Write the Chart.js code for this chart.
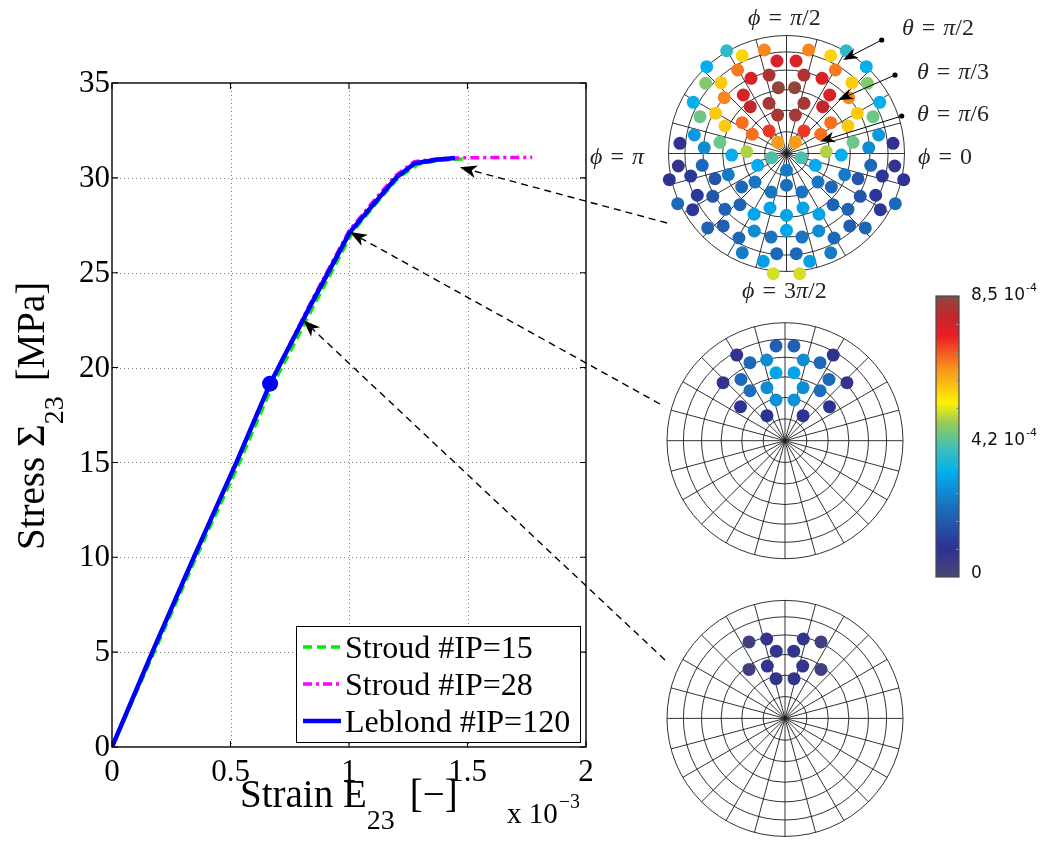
<!DOCTYPE html>
<html><head><meta charset="utf-8"><title>Stress-strain with integration points</title>
<script src="https://cdn.jsdelivr.net/npm/chart.js@4.4.1/dist/chart.umd.min.js"></script>
<style>
html,body{margin:0;padding:0;background:#fff;}
#wrap{position:relative;width:1042px;height:842px;overflow:hidden;background:#fff;}
#wrap canvas{position:absolute;left:0;top:0;}
</style></head><body><div id="wrap">
<canvas id="cMain" width="1042" height="842"></canvas>
<canvas id="cTop" width="1042" height="842"></canvas>
<canvas id="cMid" width="1042" height="842"></canvas>
<canvas id="cBot" width="1042" height="842"></canvas>
</div>
<script>
// ---------------- main curve data (strain x1e-3, stress MPa) ----------------
const strainLeblond = [0, 0.17, 0.345, 0.525, 0.667, 0.737, 0.849, 1.004, 1.117, 1.201, 1.278, 1.37, 1.447];
const stressLeblond = [0, 5, 10, 15, 19.15, 20.85, 23.54, 27.14, 28.81, 30.03, 30.77, 30.95, 31.05];
const strainStroud15 = [0, 0.178, 0.355, 0.538, 0.68, 0.752, 0.863, 1.015, 1.125, 1.21, 1.29, 1.38, 1.48];
const stressStroud15 = [0, 5, 10, 15, 19.15, 20.85, 23.54, 27.14, 28.81, 30.03, 30.7, 30.92, 31.0];
const strainStroud28 = [0, 0.17, 0.345, 0.525, 0.667, 0.737, 0.846, 1.0, 1.112, 1.195, 1.275, 1.37, 1.45, 1.6, 1.773];
const stressStroud28 = [0, 5, 10, 15, 19.15, 20.9, 23.6, 27.2, 28.9, 30.1, 30.85, 31.0, 31.05, 31.07, 31.08];
const markStrain = [0.667];
const markStress = [19.15];
const seriesLabels = ['Stroud #IP=15', 'Stroud #IP=28', 'Leblond #IP=120'];
const xTicks = [0, 0.5, 1, 1.5, 2];
const xTickLabels = ['0', '0.5', '1', '1.5', '2'];
const yTicks = [0, 5, 10, 15, 20, 25, 30, 35];
const yTickLabels = ['0', '5', '10', '15', '20', '25', '30', '35'];
// points on the curve that the dashed arrows designate
const arrowStrain = [1.468, 1.004, 0.807];
const arrowStress = [30.56, 27.14, 22.49];

// ---------------- integration-point maps (projected disk coords, radius = 1), values x1e-4 ----------------
const topX = [
 -0.507,-0.375,-0.188,-0.081,-0.676,-0.414,-0.301,-0.148,-0.069,-0.685,-0.555,-0.527,-0.366,-0.307,-0.148,-0.075,-0.790,-0.733,-0.600,-0.521,-0.375,-0.290,-0.148,-0.075,-0.903,-0.781,-0.697,-0.564,-0.464,-0.337,-0.125,
  0.507, 0.375, 0.188, 0.081, 0.676, 0.414, 0.301, 0.148, 0.069, 0.685, 0.555, 0.527, 0.366, 0.307, 0.148, 0.075, 0.790, 0.733, 0.600, 0.521, 0.375, 0.290, 0.148, 0.075, 0.903, 0.781, 0.697, 0.564, 0.464, 0.337, 0.125,
 -0.917,-0.714,-0.993,-0.812,-0.606,-0.493,-0.244,-0.756,-0.625,-0.380,-0.267,-0.131,-0.922,-0.795,-0.521,-0.394,-0.275,-0.140,-0.668,-0.536,-0.403,-0.273,-0.131,-0.375,-0.197,-0.083,-0.112,
  0.917, 0.714, 0.993, 0.812, 0.606, 0.493, 0.244, 0.756, 0.625, 0.380, 0.267, 0.131, 0.922, 0.795, 0.521, 0.394, 0.275, 0.140, 0.668, 0.536, 0.403, 0.273, 0.131, 0.375, 0.197, 0.083, 0.112,
  0, 0, 0, 0];
const topY = [
  0.871, 0.829, 0.877, 0.784, 0.736, 0.708, 0.637, 0.665, 0.558, 0.595, 0.600, 0.473, 0.496, 0.397, 0.425, 0.326, 0.434, 0.312, 0.341, 0.233, 0.261, 0.163, 0.191, 0.095, 0.086, 0.157, 0.049, 0.095,-0.013, 0.015,-0.036,
  0.871, 0.829, 0.877, 0.784, 0.736, 0.708, 0.637, 0.665, 0.558, 0.595, 0.600, 0.473, 0.496, 0.397, 0.425, 0.326, 0.434, 0.312, 0.341, 0.233, 0.261, 0.163, 0.191, 0.095, 0.086, 0.157, 0.049, 0.095,-0.013, 0.015,-0.036,
 -0.106,-0.100,-0.222,-0.191,-0.214,-0.180,-0.100,-0.354,-0.363,-0.284,-0.242,-0.326,-0.425,-0.476,-0.473,-0.434,-0.515,-0.462,-0.631,-0.614,-0.716,-0.657,-0.708,-0.841,-0.914,-0.849,-1.019,
 -0.106,-0.100,-0.222,-0.191,-0.214,-0.180,-0.100,-0.354,-0.363,-0.284,-0.242,-0.326,-0.425,-0.476,-0.473,-0.434,-0.515,-0.462,-0.631,-0.614,-0.716,-0.657,-0.708,-0.841,-0.914,-0.849,-1.019,
 -0.142,-0.269,-0.524,-0.651];
const topV = [
  3.7, 5.6, 6.4, 7.6, 3.2, 6.5, 7.6, 8.1, 8.4, 4.5, 5.7, 6.4, 7.6, 7.9, 8.2, 8.2, 3.2, 4.3, 5.7, 5.7, 6.6, 6.6, 7.1, 6.2, 0.9, 2.8, 2.6, 4.3, 3.2, 4.8, 4.0,
  3.7, 5.6, 6.4, 7.6, 3.2, 6.5, 7.6, 8.1, 8.4, 4.5, 5.7, 6.4, 7.6, 7.9, 8.2, 8.2, 3.2, 4.3, 5.7, 5.7, 6.6, 6.6, 7.1, 6.2, 0.9, 2.8, 2.6, 4.3, 3.2, 4.8, 4.0,
  0.7, 2.0, 0.9, 1.0, 1.6, 2.3, 3.1, 1.0, 1.6, 2.0, 2.2, 2.2, 2.0, 1.0, 1.9, 1.9, 3.0, 3.0, 1.9, 1.8, 2.0, 2.6, 2.2, 2.3, 2.9, 2.0, 5.0,
  0.7, 2.0, 0.9, 1.0, 1.6, 2.3, 3.1, 1.0, 1.6, 2.0, 2.2, 2.2, 2.0, 1.0, 1.9, 1.9, 3.0, 3.0, 1.9, 1.8, 2.0, 2.6, 2.2, 2.3, 2.9, 2.0, 5.0,
  2.3, 2.1, 3.0, 3.0];

const midX = [-0.076, 0.076,-0.409, 0.409,-0.297, 0.297,-0.155, 0.155,-0.076, 0.076,-0.525, 0.525,-0.373, 0.373,-0.297, 0.297,-0.153, 0.153,-0.076, 0.076,-0.377, 0.377,-0.153, 0.153];
const midY = [ 0.803, 0.803, 0.726, 0.726, 0.661, 0.661, 0.684, 0.684, 0.576, 0.576, 0.492, 0.492, 0.519, 0.519, 0.424, 0.424, 0.449, 0.449, 0.345, 0.345, 0.288, 0.288, 0.212, 0.212];
const midV = [ 1.8, 1.8, 0.8, 0.8, 2.0, 2.0, 2.6, 2.6, 3.0, 3.0, 0.7, 0.7, 2.0, 2.0, 2.1, 2.1, 2.6, 2.6, 2.7, 2.7, 0.9, 0.9, 0.9, 0.9];

const botX = [-0.305, 0.305,-0.155, 0.155,-0.074, 0.074,-0.305, 0.305,-0.150, 0.150,-0.076, 0.076];
const botY = [ 0.653, 0.653, 0.678, 0.678, 0.574, 0.574, 0.418, 0.418, 0.447, 0.447, 0.339, 0.339];
const botV = [ 0.3, 0.3, 0.7, 0.7, 0.7, 0.7, 0.3, 0.3, 0.7, 0.7, 0.7, 0.7];

// grid of the maps: rings at theta (deg, equal-area projection), spokes at phi (deg)
const ringTheta = [15, 30, 45, 60, 75, 90];
const spokePhi = [0,15,30,45,60,75,90,105,120,135,150,165,180,195,210,225,240,255,270,285,300,315,330,345];

// colour bar
const CB_MAX = 8.5;
const cbTickVals = [8.5, 4.2, 0];
const cbTickText = ['8,5 10', '4,2 10', '0'];
const cbTickExp = ['-4', '-4', ''];

// ---------------- colour map ----------------
const cmapStops = [[0,'#4a4677'],[0.10,'#2e3192'],[0.25,'#1b6fbd'],[0.37,'#00aeef'],[0.46,'#40c0b8'],[0.55,'#9acb57'],[0.62,'#fff200'],[0.74,'#f7941d'],[0.86,'#ed1c24'],[0.93,'#c1272d'],[1,'#8b4a3e']];
function hex2rgb(h){return [parseInt(h.slice(1,3),16),parseInt(h.slice(3,5),16),parseInt(h.slice(5,7),16)];}
function cmap(v){
  const f = Math.max(0, Math.min(1, v / CB_MAX));
  for (let i = 1; i < cmapStops.length; i++) {
    if (f <= cmapStops[i][0]) {
      const f0 = cmapStops[i-1][0], f1 = cmapStops[i][0];
      const a = hex2rgb(cmapStops[i-1][1]), b = hex2rgb(cmapStops[i][1]);
      const t = (f - f0) / (f1 - f0);
      return 'rgb(' + a.map((c,k)=>Math.round(c + (b[k]-c)*t)).join(',') + ')';
    }
  }
  return cmapStops[cmapStops.length-1][1];
}
const pts = (xs, ys) => xs.map((x,i)=>({x:x, y:ys[i]}));

// ---------------- drawing helpers ----------------
const SERIF = '"Liberation Serif", "Times New Roman", serif';
function seq(ctx, x, y, parts){
  let cx = x;
  ctx.textAlign = 'left';
  for (const p of parts){
    cx += (p[3] || 0);
    ctx.font = p[1];
    ctx.fillText(p[0], cx, y + (p[2] || 0));
    cx += ctx.measureText(p[0]).width;
  }
  return cx - x;
}
function arrow(ctx, fx, fy, tx, ty, len, hw, dash, lw){
  const ang = Math.atan2(ty - fy, tx - fx), c = Math.cos(ang), s = Math.sin(ang);
  const nx = tx - 0.72*len*c, ny = ty - 0.72*len*s;
  ctx.save();
  ctx.strokeStyle = '#000'; ctx.fillStyle = '#000'; ctx.lineWidth = lw;
  ctx.setLineDash(dash);
  ctx.beginPath(); ctx.moveTo(fx, fy); ctx.lineTo(nx, ny); ctx.stroke();
  ctx.setLineDash([]);
  const bx = tx - len*c, by = ty - len*s;
  ctx.beginPath();
  ctx.moveTo(tx, ty);
  ctx.lineTo(bx - hw*s, by + hw*c);
  ctx.lineTo(nx, ny);
  ctx.lineTo(bx + hw*s, by - hw*c);
  ctx.closePath(); ctx.fill();
  ctx.restore();
}

// ---------------- main chart plugin ----------------
const mainDeco = {
  id: 'mainDeco',
  beforeDatasetsDraw(chart){
    const {ctx, chartArea:a, scales:{x, y}} = chart;
    ctx.save();
    ctx.strokeStyle = '#808080'; ctx.lineWidth = 1; ctx.setLineDash([1, 3]);
    xTicks.slice(1, -1).forEach(v => {
      const px = Math.round(x.getPixelForValue(v)) + 0.5;
      ctx.beginPath(); ctx.moveTo(px, a.top); ctx.lineTo(px, a.bottom); ctx.stroke();
    });
    yTicks.slice(1, -1).forEach(v => {
      const py = Math.round(y.getPixelForValue(v)) + 0.5;
      ctx.beginPath(); ctx.moveTo(a.left, py); ctx.lineTo(a.right, py); ctx.stroke();
    });
    ctx.restore();
  },
  afterDatasetsDraw(chart){
    const {ctx, chartArea:a, scales:{x, y}} = chart;
    ctx.save();
    // box + inner ticks
    ctx.strokeStyle = '#000'; ctx.lineWidth = 1.4; ctx.setLineDash([]);
    ctx.strokeRect(a.left, a.top, a.right - a.left, a.bottom - a.top);
    ctx.lineWidth = 1.1;
    xTicks.forEach(v => {
      const px = x.getPixelForValue(v);
      ctx.beginPath(); ctx.moveTo(px, a.bottom); ctx.lineTo(px, a.bottom - 6);
      ctx.moveTo(px, a.top); ctx.lineTo(px, a.top + 6); ctx.stroke();
    });
    yTicks.forEach(v => {
      const py = y.getPixelForValue(v);
      ctx.beginPath(); ctx.moveTo(a.left, py); ctx.lineTo(a.left + 6, py);
      ctx.moveTo(a.right, py); ctx.lineTo(a.right - 6, py); ctx.stroke();
    });
    // legend
    const L = {x: 296, y: 626, w: 284, h: 116};
    ctx.fillStyle = '#fff'; ctx.fillRect(L.x, L.y, L.w, L.h);
    ctx.strokeStyle = '#000'; ctx.lineWidth = 1; ctx.strokeRect(L.x + 0.5, L.y + 0.5, L.w, L.h);
    const ds = chart.data.datasets;
    const rowY = [647, 684, 721];
    const baseY = [658, 695, 732];
    for (let i = 0; i < 3; i++) {
      ctx.strokeStyle = ds[i].borderColor; ctx.lineWidth = ds[i].borderWidth;
      ctx.setLineDash(ds[i].borderDash || []);
      ctx.beginPath(); ctx.moveTo(303, rowY[i]); ctx.lineTo(341, rowY[i]); ctx.stroke();
      ctx.setLineDash([]);
      ctx.fillStyle = '#000'; ctx.font = '32px ' + SERIF; ctx.textAlign = 'left'; ctx.textBaseline = 'alphabetic';
      ctx.fillText(seriesLabels[i], 345, baseY[i]);
    }
    // tick labels
    ctx.fillStyle = '#000'; ctx.font = '31px ' + SERIF;
    ctx.textAlign = 'center'; ctx.textBaseline = 'alphabetic';
    xTicks.forEach((v, i) => ctx.fillText(xTickLabels[i], x.getPixelForValue(v), 781));
    ctx.textAlign = 'right'; ctx.textBaseline = 'middle';
    yTicks.forEach((v, i) => ctx.fillText(yTickLabels[i], 110, y.getPixelForValue(v) + 1));
    ctx.textBaseline = 'alphabetic';
    // x axis title
    seq(ctx, 240, 807, [['Strain E', '39px ' + SERIF], ['23', '28px ' + SERIF, 22], ['[\u2212]', '39px ' + SERIF, 0, 15]]);
    // exponent
    seq(ctx, 507, 823, [['x 10', '29px ' + SERIF], ['\u22123', '20px ' + SERIF, -15, 1]]);
    // y axis title (rotated)
    ctx.save();
    ctx.translate(44, 550); ctx.rotate(-Math.PI / 2);
    seq(ctx, 0, 0, [['Stress \u03A3', '39px ' + SERIF], ['23', '28px ' + SERIF, 19], ['[MPa]', '39px ' + SERIF, 0, 15]]);
    ctx.restore();
    // dashed arrows from the maps to the curve
    const tails = [[667, 223], [660, 404], [665, 660]];
    arrowStrain.forEach((v, i) => {
      arrow(ctx, tails[i][0], tails[i][1], x.getPixelForValue(v), y.getPixelForValue(arrowStress[i]), 17, 6.5, [7, 5], 1.4);
    });
    // colour bar
    const cb = {x: 936, y: 296, w: 23, h: 281};
    const g = ctx.createLinearGradient(0, cb.y + cb.h, 0, cb.y);
    cmapStops.forEach(s => g.addColorStop(s[0], s[1]));
    ctx.fillStyle = g; ctx.fillRect(cb.x, cb.y, cb.w, cb.h);
    ctx.strokeStyle = '#9a9a9a'; ctx.lineWidth = 1;
    for (let k = 1; k < 10; k++) {
      const ty = Math.round(cb.y + cb.h * k / 10) + 0.5;
      ctx.beginPath(); ctx.moveTo(cb.x + cb.w - 3, ty); ctx.lineTo(cb.x + cb.w, ty); ctx.stroke();
    }
    ctx.strokeStyle = '#4a4a4a'; ctx.lineWidth = 1.2;
    ctx.strokeRect(cb.x, cb.y, cb.w, cb.h);
    ctx.fillStyle = '#111';
    const cbBase = [300, 445, 578];
    cbTickVals.forEach((v, i) => {
      seq(ctx, 971, cbBase[i], [[cbTickText[i], '17px "DejaVu Sans", sans-serif'], [cbTickExp[i], '11px "DejaVu Sans", sans-serif', -9, 1]]);
    });
    ctx.restore();
  }
};

new Chart(document.getElementById('cMain'), {
  type: 'scatter',
  data: { datasets: [
    { label: seriesLabels[0], data: pts(strainStroud15, stressStroud15), showLine: true, borderColor: '#00f000', borderWidth: 3.5, borderDash: [9, 5], pointRadius: 0, order: 3, borderJoinStyle: 'round' },
    { label: seriesLabels[1], data: pts(strainStroud28, stressStroud28), showLine: true, borderColor: '#ff00ff', borderWidth: 3.5, borderDash: [9, 4, 3, 4], pointRadius: 0, order: 2, borderJoinStyle: 'round' },
    { label: seriesLabels[2], data: pts(strainLeblond, stressLeblond), showLine: true, borderColor: '#0000ff', borderWidth: 4.5, pointRadius: 0, order: 1, borderJoinStyle: 'round' },
    { label: 'state', data: pts(markStrain, markStress), showLine: false, pointRadius: 8, backgroundColor: '#0000ff', borderWidth: 0, order: 0 }
  ]},
  options: {
    responsive: false, animation: false, events: [],
    layout: { padding: { left: 0, top: 83, right: 456, bottom: 0 } },
    scales: {
      x: { type: 'linear', min: 0, max: 2, ticks: { display: false, stepSize: 0.5 }, grid: { display: false }, border: { display: false }, afterFit(s){ s.height = 95; } },
      y: { type: 'linear', min: 0, max: 35, ticks: { display: false, stepSize: 5 }, grid: { display: false }, border: { display: false }, afterFit(s){ s.width = 112; } }
    },
    plugins: { legend: { display: false }, tooltip: { enabled: false } }
  },
  plugins: [mainDeco]
});

// ---------------- maps ----------------
const diskGrid = {
  id: 'diskGrid',
  beforeDatasetsDraw(chart){
    const {ctx, scales:{x, y}} = chart;
    const cx = x.getPixelForValue(0), cy = y.getPixelForValue(0);
    const R = x.getPixelForValue(1) - cx;
    ctx.save(); ctx.strokeStyle = '#1c1c1c'; ctx.lineWidth = 0.9;
    ringTheta.forEach(t => {
      const r = R * Math.SQRT2 * Math.sin(t * Math.PI / 360);
      ctx.beginPath(); ctx.arc(cx, cy, r, 0, 2 * Math.PI); ctx.stroke();
    });
    spokePhi.forEach(p => {
      const ang = p * Math.PI / 180;
      ctx.beginPath(); ctx.moveTo(cx, cy); ctx.lineTo(cx + R * Math.cos(ang), cy - R * Math.sin(ang)); ctx.stroke();
    });
    ctx.restore();
  }
};
const topLabels = {
  id: 'topLabels',
  afterDatasetsDraw(chart){
    const ctx = chart.ctx;
    ctx.save();
    ctx.fillStyle = '#262626'; ctx.textBaseline = 'alphabetic';
    const I = 'italic 24px ' + SERIF, N = '24px ' + SERIF;
    const lab = (x, yb, sym, rhs) => seq(ctx, x, yb, [[sym, I], ['=', N, 0, 8], ...rhs.map((r, k) => [r[0], r[1] ? I : N, 0, k === 0 ? 8 : 0])]);
    lab(748, 25, '\u03D5', [['\u03C0', 1], ['/2', 0]]);
    lab(590, 164, '\u03D5', [['\u03C0', 1]]);
    lab(918, 164, '\u03D5', [['0', 0]]);
    lab(742, 298, '\u03D5', [['3', 0], ['\u03C0', 1], ['/2', 0]]);
    lab(902, 35, '\u03B8', [['\u03C0', 1], ['/2', 0]]);
    lab(917, 79, '\u03B8', [['\u03C0', 1], ['/3', 0]]);
    lab(917, 121, '\u03B8', [['\u03C0', 1], ['/6', 0]]);
    const thArrows = [[881.7, 40, 843, 60], [895, 75, 838, 100], [901.7, 116, 820, 141.5]];
    thArrows.forEach(t => {
      arrow(ctx, t[0], t[1], t[2], t[3], 15, 5.5, [], 1);
      ctx.fillStyle = '#000'; ctx.beginPath(); ctx.arc(t[0], t[1], 2.6, 0, 2 * Math.PI); ctx.fill();
    });
    ctx.restore();
  }
};
function diskChart(id, cx, cy, xs, ys, vs, extra){
  const R = 118, W = 1042, H = 842;
  return new Chart(document.getElementById(id), {
    type: 'scatter',
    data: { datasets: [{ data: pts(xs, ys), backgroundColor: vs.map(cmap), pointRadius: 6.5, pointHoverRadius: 6.5, borderWidth: 0, clip: false }] },
    options: {
      responsive: false, animation: false, events: [],
      layout: { padding: { left: cx - R, right: W - (cx + R), top: cy - R, bottom: H - (cy + R) } },
      scales: { x: { type: 'linear', min: -1, max: 1, display: false }, y: { type: 'linear', min: -1, max: 1, display: false } },
      plugins: { legend: { display: false }, tooltip: { enabled: false } }
    },
    plugins: extra ? [diskGrid, extra] : [diskGrid]
  });
}
diskChart('cTop', 786.5, 153.5, topX, topY, topV, topLabels);
diskChart('cMid', 785, 440.7, midX, midY, midV);
diskChart('cBot', 785, 719.3, botX, botY, botV);
</script></body></html>
